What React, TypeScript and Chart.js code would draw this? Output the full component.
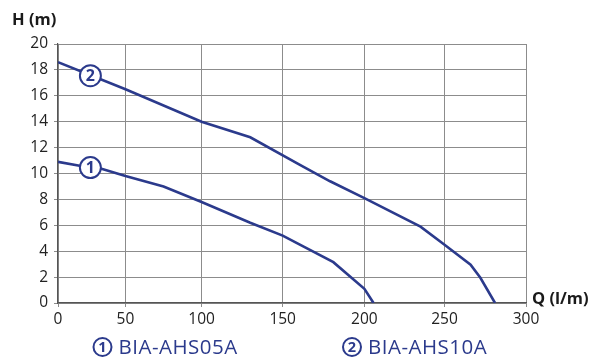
import React, { useEffect, useRef } from 'react';
import { Chart, registerables, LinearScale } from 'chart.js';

// ---- data ----
const SERIES_NAMES = ['BIA-AHS05A', 'BIA-AHS10A'];
const SERIES_TAGS = ['1', '2'];
const Q1 = [0, 16, 31, 50, 75, 100, 130, 150, 160.5, 181, 200, 205.7];
const H1 = [10.9, 10.6, 10.4, 9.8, 9.0, 7.8, 6.2, 5.2, 4.5, 3.15, 1.1, 0];
const Q2 = [0, 50, 100, 130, 160, 179, 200, 235, 250, 266, 272, 281];
const H2 = [18.6, 16.5, 14.0, 12.8, 10.7, 9.4, 8.1, 5.9, 4.5, 2.95, 1.95, 0];
const X_TICK_VALUES = [0, 50, 100, 150, 200, 250, 300];
const Y_TICK_VALUES = [0, 2, 4, 6, 8, 10, 12, 14, 16, 18, 20];
const X_TITLE = 'Q (l/m)';
const Y_TITLE = 'H (m)';
const MARKER_Q = 24;

// ---- layout / style ----
// fraction of the plot width at each x tick (the reference axis is unevenly spaced)
const X_TICK_FRACTIONS = [0, 0.1442, 0.3068, 0.4801, 0.6547, 0.8259, 1];
const NAVY = '#2b3a8c';
const GRID = '#8c8c8c';
const FONT = '"Open Sans", "Noto Sans", sans-serif';

function interp(xs: number[], ys: number[], x: number): number {
  for (let i = 0; i < xs.length - 1; i++) {
    if (x >= xs[i] && x <= xs[i + 1]) {
      const t = (x - xs[i]) / (xs[i + 1] - xs[i]);
      return ys[i] + t * (ys[i + 1] - ys[i]);
    }
  }
  if (x < xs[0]) {
    const t = (x - xs[0]) / (xs[1] - xs[0]);
    return ys[0] + t * (ys[1] - ys[0]);
  }
  const n = xs.length - 1;
  const t = (x - xs[n - 1]) / (xs[n] - xs[n - 1]);
  return ys[n - 1] + t * (ys[n] - ys[n - 1]);
}

class PiecewiseScale extends LinearScale {
  static id = 'piecewise';
  static defaults = LinearScale.defaults;
  getPixelForValue(value: number) {
    return this.getPixelForDecimal(interp(X_TICK_VALUES, X_TICK_FRACTIONS, value));
  }
  getValueForPixel(pixel: number) {
    return interp(X_TICK_FRACTIONS, X_TICK_VALUES, this.getDecimalForPixel(pixel));
  }
}

Chart.register(...registerables, PiecewiseScale as any);

function drawTag(ctx: CanvasRenderingContext2D, x: number, y: number, r: number, tag: string, size: number) {
  ctx.save();
  ctx.beginPath();
  ctx.arc(x, y, r, 0, Math.PI * 2);
  ctx.fillStyle = '#ffffff';
  ctx.fill();
  ctx.lineWidth = 2;
  ctx.strokeStyle = NAVY;
  ctx.stroke();
  ctx.fillStyle = NAVY;
  ctx.font = `bold ${size}px ${FONT}`;
  ctx.textAlign = 'center';
  ctx.textBaseline = 'middle';
  ctx.fillText(tag, x, y + 1);
  ctx.restore();
}

const overlayPlugin = {
  id: 'overlay',
  afterDraw(chart: any) {
    const ctx: CanvasRenderingContext2D = chart.ctx;
    const xs = chart.scales.x;
    const ys = chart.scales.y;
    const series = [
      [Q1, H1],
      [Q2, H2],
    ];
    series.forEach(([q, h], i) => {
      const hv = interp(q, h, MARKER_Q);
      drawTag(ctx, xs.getPixelForValue(MARKER_Q), ys.getPixelForValue(hv) + 0.5, 10.5, SERIES_TAGS[i], 16);
    });

    ctx.save();
    ctx.fillStyle = '#1a1a1a';
    ctx.font = `bold 16.5px ${FONT}`;
    ctx.textBaseline = 'middle';
    ctx.textAlign = 'left';
    ctx.fillText(Y_TITLE, 12, 20);
    ctx.fillText(X_TITLE, 532, 299);
    ctx.restore();

    const legendX = [102.5, 352];
    SERIES_NAMES.forEach((name, i) => {
      drawTag(ctx, legendX[i], 347, 9, SERIES_TAGS[i], 14.5);
      ctx.save();
      ctx.fillStyle = NAVY;
      ctx.font = `20.5px ${FONT}`;
      (ctx as any).letterSpacing = '0.5px';
      ctx.textBaseline = 'alphabetic';
      ctx.textAlign = 'left';
      ctx.fillText(name, legendX[i] + 16, 354);
      ctx.restore();
    });
  },
};

export default function App() {
  const ref = useRef<HTMLCanvasElement>(null);
  useEffect(() => {
    if (!ref.current) return;
    const tickFont = { family: FONT, size: 15.5 };
    const chart = new Chart(ref.current, {
      type: 'scatter',
      data: {
        datasets: [
          {
            label: SERIES_NAMES[0],
            data: Q1.map((q, i) => ({ x: q, y: H1[i] })),
            showLine: true,
            borderColor: NAVY,
            backgroundColor: NAVY,
            borderWidth: 2.6,
            pointRadius: 0,
            tension: 0,
          },
          {
            label: SERIES_NAMES[1],
            data: Q2.map((q, i) => ({ x: q, y: H2[i] })),
            showLine: true,
            borderColor: NAVY,
            backgroundColor: NAVY,
            borderWidth: 2.6,
            pointRadius: 0,
            tension: 0,
          },
        ],
      },
      options: {
        responsive: false,
        animation: false,
        events: [],
        layout: { padding: { left: 0, top: 44, right: 74, bottom: 29 } },
        plugins: {
          legend: { display: false },
          tooltip: { enabled: false },
        },
        scales: {
          x: {
            type: 'piecewise' as any,
            min: 0,
            max: 300,
            afterBuildTicks: (s: any) => {
              s.ticks = X_TICK_VALUES.map((v) => ({ value: v }));
            },
            afterFit: (s: any) => {
              s.height = 30;
            },
            grid: { color: GRID, lineWidth: 1, tickLength: 4, drawTicks: true },
            border: { color: '#555555', width: 1.2 },
            ticks: { color: '#222222', font: tickFont, padding: 3, maxRotation: 0, autoSkip: false },
          },
          y: {
            type: 'linear',
            min: 0,
            max: 20,
            afterBuildTicks: (s: any) => {
              s.ticks = Y_TICK_VALUES.map((v) => ({ value: v }));
            },
            afterFit: (s: any) => {
              s.width = 58;
            },
            grid: { color: GRID, lineWidth: 1, tickLength: 4, drawTicks: true },
            border: { color: '#555555', width: 1.2 },
            ticks: { color: '#222222', font: tickFont, padding: 6, autoSkip: false },
          },
        },
      },
      plugins: [overlayPlugin],
    } as any);
    return () => chart.destroy();
  }, []);
  return (
    <div style={{ position: 'fixed', left: 0, top: 0, width: 600, height: 362, background: '#ffffff' }}>
      <canvas ref={ref} width={600} height={362} style={{ display: 'block' }} />
    </div>
  );
}
